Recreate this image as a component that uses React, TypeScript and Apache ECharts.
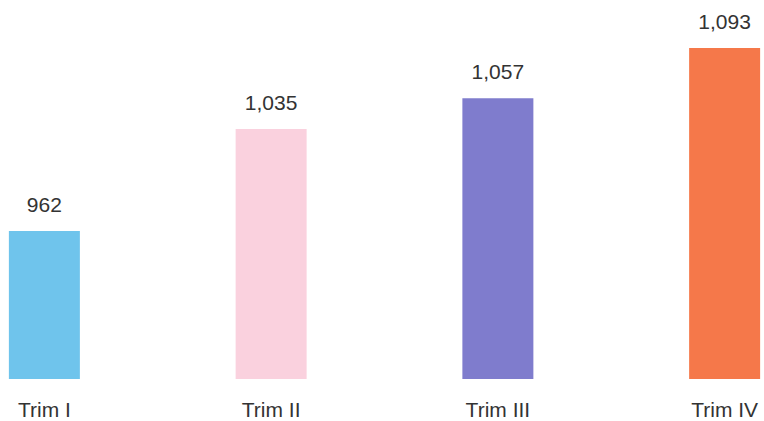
import React, { useEffect, useRef } from "react";
import * as echarts from "echarts";

const categories = ["Trim I", "Trim II", "Trim III", "Trim IV"];
const values = [962, 1035, 1057, 1093];
const colors = ["#6fc4ec", "#fad1de", "#7f7ccd", "#f5784a"];

export default function App() {
  const ref = useRef<HTMLDivElement>(null);
  useEffect(() => {
    const chart = echarts.init(ref.current!, null, { renderer: "svg" });
    chart.setOption({
      animation: false,
      backgroundColor: "#ffffff",
      grid: {
        left: -69,
        width: 907,
        top: 48,
        bottom: 42,
        containLabel: false,
        outerBoundsMode: "none",
      },
      xAxis: {
        type: "category",
        data: categories,
        boundaryGap: true,
        axisLine: { show: false, onZero: false },
        axisTick: { show: false },
        axisLabel: {
          interval: 0,
          color: "#333333",
          fontSize: 21,
          fontFamily: "Liberation Sans, Arial, sans-serif",
          margin: 20,
        },
      },
      yAxis: {
        type: "value",
        min: 856,
        max: 1093,
        show: false,
        splitLine: { show: false },
      },
      series: [
        {
          type: "bar",
          clip: true,
          barWidth: 71,
          data: values.map((v, i) => ({ value: v, itemStyle: { color: colors[i] } })),
          label: {
            show: true,
            position: "top",
            distance: 16,
            color: "#333333",
            fontSize: 21,
            fontFamily: "Liberation Sans, Arial, sans-serif",
            formatter: (p: any) => p.value.toLocaleString("en-US"),
          },
        },
      ],
    });
    return () => chart.dispose();
  }, []);
  return <div ref={ref} style={{ width: 764, height: 421, position: "fixed", left: 0, top: 0 }} />;
}
